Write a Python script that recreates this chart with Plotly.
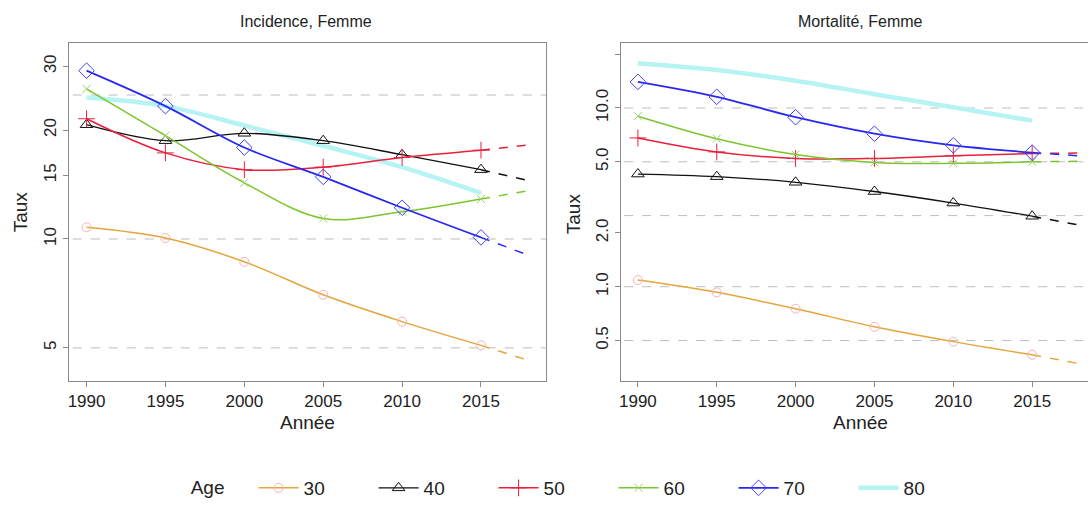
import math
import plotly.graph_objects as go

# ---------------- data ----------------
years = [1990, 1995, 2000, 2005, 2010, 2015]
proj_years = [2015, 2018]
ages = ["30", "40", "50", "60", "70", "80"]

inc_30 = [10.77, 10.06, 8.65, 7.01, 5.91, 5.08]
inc_40 = [20.7, 18.7, 19.6, 18.7, 17.1, 15.55]
inc_50 = [21.5, 17.3, 15.55, 15.8, 16.8, 17.6]
inc_60 = [26.0, 19.3, 14.3, 11.4, 11.9, 12.9]
inc_70 = [29.2, 23.3, 17.9, 14.85, 12.2, 10.1]
inc_80 = [24.6, 23.3, 20.6, 18.1, 15.8, 13.4]
inc_proj = {"30": 4.62, "40": 14.5, "50": 18.2, "60": 13.6, "70": 9.02}

mort_30 = [1.09, 0.93, 0.753, 0.597, 0.493, 0.416]
mort_40 = [4.27, 4.13, 3.84, 3.41, 2.94, 2.48]
mort_50 = [6.8, 5.68, 5.22, 5.22, 5.40, 5.56]
mort_60 = [9.0, 6.73, 5.49, 4.96, 4.90, 5.0]
mort_70 = [14.0, 11.55, 8.88, 7.18, 6.18, 5.63]
mort_80 = [17.8, 16.3, 14.2, 11.95, 10.1, 8.5]
mort_proj = {"30": 0.371, "40": 2.21, "50": 5.6, "60": 5.03, "70": 5.40}

inc_ticks = [5, 10, 15, 20, 30]
inc_ticktext = ["5", "10", "15", "20", "30"]
mort_ticks = [0.5, 1, 2, 5, 10, 20]
mort_ticktext = ["0.5", "1.0", "2.0", "5.0", "10.0", ""]
inc_grid = [5, 10, 25]
mort_grid = [0.5, 1, 2.5, 5, 10]

titles = ["Incidence, Femme", "Mortalité, Femme"]

# ---------------- styles ----------------
styles = {
    "30": dict(line=dict(color="#E6A43A", width=1.5),
               marker=dict(symbol="circle-open", size=9, color="#F2B4B4", line=dict(width=1))),
    "40": dict(line=dict(color="#111111", width=1.3),
               marker=dict(symbol="triangle-up-open", size=11, color="#111111", line=dict(width=1))),
    "50": dict(line=dict(color="#E8203C", width=1.5),
               marker=dict(symbol="cross-thin-open", size=12, color="#E8203C", line=dict(width=1))),
    "60": dict(line=dict(color="#7CC52C", width=1.5),
               marker=dict(symbol="x-thin-open", size=8, color="#9CD070", line=dict(width=1))),
    "70": dict(line=dict(color="#2828F0", width=1.8),
               marker=dict(symbol="diamond-open", size=12, color="#4040F0", line=dict(width=1))),
    "80": dict(line=dict(color="#B6F3F3", width=4.5),
               marker=dict(symbol="circle", size=1, color="rgba(0,0,0,0)")),
}

FONT = "Liberation Sans, Arial, sans-serif"
W, H = 1088, 507

fig = go.Figure()

inc_series = dict(zip(ages, [inc_30, inc_40, inc_50, inc_60, inc_70, inc_80]))
mort_series = dict(zip(ages, [mort_30, mort_40, mort_50, mort_60, mort_70, mort_80]))

panels = [
    ("x", "y", inc_series, inc_proj, inc_grid),
    ("x2", "y2", mort_series, mort_proj, mort_grid),
]

for pi, (xa, ya, series, proj, grid) in enumerate(panels):
    for g in grid:
        fig.add_trace(go.Scatter(
            x=[1980, 2030], y=[g, g], mode="lines", xaxis=xa, yaxis=ya,
            line=dict(color="#BDBDBD", width=1, dash="dash"),
            showlegend=False, hoverinfo="skip"))
    for age in ["80", "30", "40", "50", "60", "70"]:
        st = styles[age]
        if age in proj:
            fig.add_trace(go.Scatter(
                x=proj_years, y=[series[age][-1], proj[age]], mode="lines",
                xaxis=xa, yaxis=ya,
                line=dict(color=st["line"]["color"], width=1.5, dash="dash"),
                showlegend=False, hoverinfo="skip"))
        fig.add_trace(go.Scatter(
            x=years, y=series[age], name=age,
            mode="lines" if age == "80" else "lines+markers",
            xaxis=xa, yaxis=ya,
            line=dict(st["line"], shape="spline", smoothing=1.0),
            marker=st["marker"],
            legendrank=int(age),
            showlegend=(pi == 0)))

ydom = [1 - 384 / H, 1 - 43 / H]
axis_common = dict(showline=True, linecolor="#8A8A8A", linewidth=1.2, ticks="outside",
                   ticklen=5, tickcolor="#8A8A8A", showgrid=False, zeroline=False,
                   tickfont=dict(size=17, color="#222", family=FONT))

fig.update_layout(
    width=W, height=H,
    margin=dict(l=0, r=0, t=0, b=0),
    paper_bgcolor="white", plot_bgcolor="white",
    font=dict(family=FONT, color="#222"),
    xaxis=dict(axis_common, domain=[67 / W, 545 / W], range=[1988.88, 2019.12],
               tickvals=years, mirror=True, anchor="y"),
    yaxis=dict(axis_common, domain=ydom, type="log",
               range=[math.log10(4.05), math.log10(34.9)],
               tickvals=inc_ticks, ticktext=inc_ticktext, tickangle=-90, mirror=True,
               anchor="x"),
    xaxis2=dict(axis_common, domain=[620 / W, 1.0], range=[1988.92, 2018.54],
                tickvals=years, mirror=True, anchor="y2"),
    yaxis2=dict(axis_common, domain=ydom, type="log",
                range=[math.log10(0.297), math.log10(23.2)],
                tickvals=mort_ticks, ticktext=mort_ticktext, tickangle=-90, mirror=False,
                anchor="x2"),
    legend=dict(orientation="h", x=187 / W, xanchor="left", y=1 - 492 / H, yanchor="middle",
                title=dict(text="Age\u00a0\u00a0\u00a0\u00a0", side="left", font=dict(size=19)),
                font=dict(size=19, family=FONT, color="#222"),
                itemwidth=40, entrywidth=65, entrywidthmode="pixels",
                bgcolor="rgba(0,0,0,0)"),
    showlegend=True,
)

ann = [
    dict(text=titles[0], x=305 / W, y=1 - 22 / H),
    dict(text=titles[1], x=860 / W, y=1 - 22 / H),
]
for a in ann:
    fig.add_annotation(xref="paper", yref="paper", x=a["x"], y=a["y"], text=a["text"],
                       showarrow=False, xanchor="center", yanchor="middle",
                       font=dict(size=16, family=FONT, color="#222"))
for xpx in [306, 860]:
    fig.add_annotation(xref="paper", yref="paper", x=xpx / W, y=1 - 426 / H, text="Année",
                       showarrow=False, xanchor="center", yanchor="middle",
                       font=dict(size=19, family=FONT, color="#222"))
for xpx, ypx in [(18, 213), (572, 215)]:
    fig.add_annotation(xref="paper", yref="paper", x=xpx / W, y=1 - ypx / H, text="Taux",
                       showarrow=False, xanchor="center", yanchor="middle", textangle=-90,
                       font=dict(size=19, family=FONT, color="#222"))

fig.write_html("out.html")
